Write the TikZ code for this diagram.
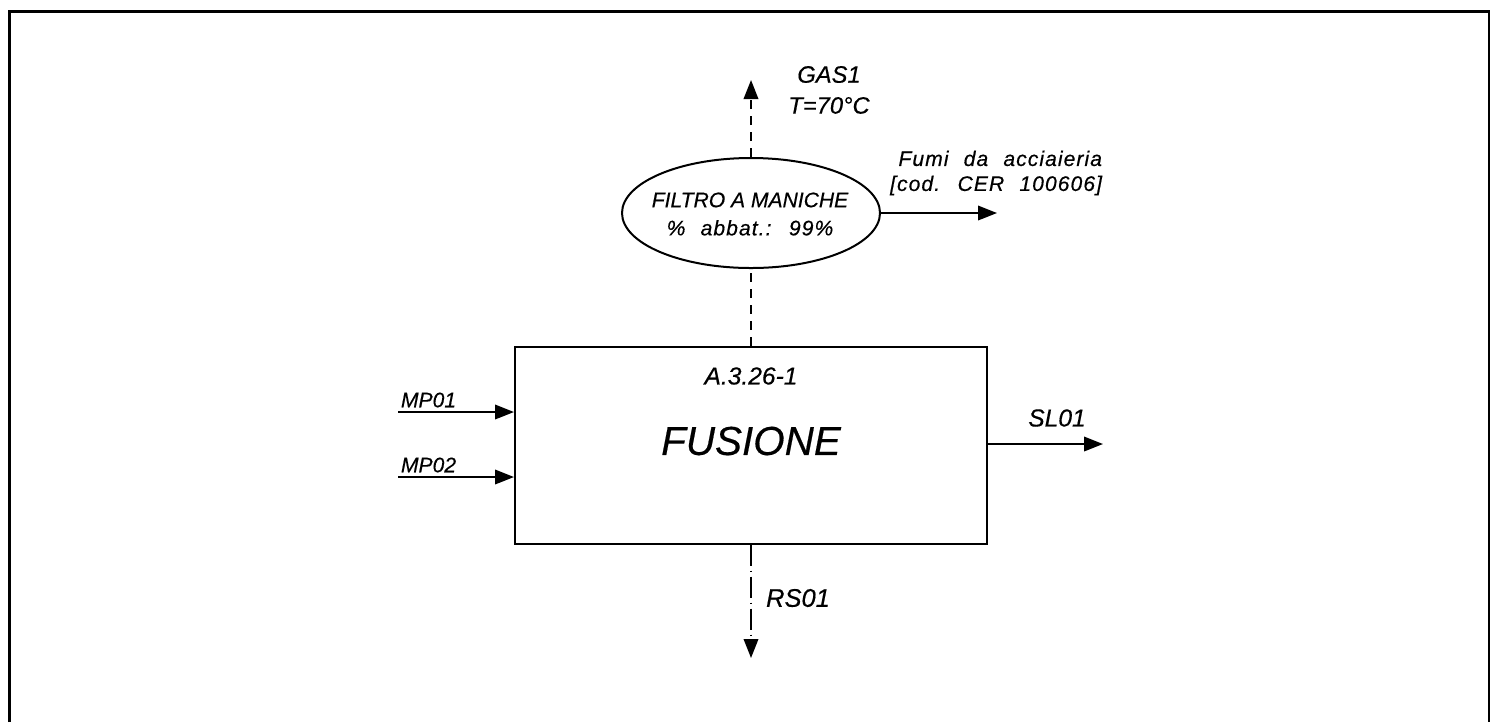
\documentclass[tikz,border=0pt]{standalone}
\usepackage{fontspec}
\setmainfont{Liberation Sans}[ItalicFeatures={FakeBold=0.4}]
\newfontfamily\isofont{Liberation Sans}[LetterSpace=5,WordSpace=2.2,ItalicFeatures={FakeBold=0.4}]
\usetikzlibrary{arrows.meta,shapes.geometric,positioning}

\begin{document}
\begin{tikzpicture}[x=0.2mm,y=-0.2mm,line width=0.4mm,
  frame/.style={line width=0.6mm},
  flow/.style={-{Triangle[length=3.8mm,width=2.9mm]}},
  gasflow/.style={flow,dash pattern=on 1.8mm off 1.4mm},
  solidflow/.style={flow,dash pattern=on 4.2mm off 1mm on 0.2mm off 1mm},
  lbl/.style={inner sep=0pt,font=\itshape\fontsize{12}{14}\selectfont},
  lowlbl/.style={inner sep=0pt,font=\isofont\itshape\fontsize{12}{14.2}\selectfont}]

\useasboundingbox (0,0) rectangle (1490,722);
\draw[frame] (9,722) -- (9,11) -- (1489,11) -- (1489,722);

% main block
\node[draw,minimum width=94.4mm,minimum height=39.4mm] (fusione) at (751,445) {};
\node[lbl,font=\itshape\fontsize{14}{16}\selectfont] (codice) at (751,376) {A.3.26-1};
\node[lbl,font=\itshape\fontsize{23}{26}\selectfont] (nome) at (751,441) {FUSIONE};

% filter
\node[draw,ellipse,minimum width=51.6mm,minimum height=22mm] (filtro) at (751,213) {};
\node[lbl,align=center,font=\itshape\fontsize{12}{16}\selectfont] (filtrotxt) at (750,214)
  {FILTRO A MANICHE\\{\isofont\itshape\fontsize{12}{16}\selectfont\% abbat.: 99\%}};

% free ends
\coordinate (mp1) at (398,412);
\coordinate (mp2) at (398,477);
\coordinate (sl) at (1103,444);
\coordinate (gas) at (751,80);
\coordinate (fumi) at (997,213);
\coordinate (rs) at (751,658);

% streams
\draw[flow] (mp1) -- (fusione.west |- mp1);
\draw[flow] (mp2) -- (fusione.west |- mp2);
\draw[flow] (fusione.east |- sl) -- (sl);
\draw[gasflow,arrows=-] (fusione.north) -- (filtro.south);
\draw[gasflow] (filtro.north) -- (gas);
\draw[flow] (filtro.east) -- (fumi);
\draw[solidflow] (fusione.south) -- (rs);

% labels
\node[lbl,anchor=west] (mp1txt) at (400,400) {MP01};
\node[lbl,anchor=west] (mp2txt) at (400,465) {MP02};
\node[lbl,font=\itshape\fontsize{14}{16}\selectfont] (sltxt) at (1057,418) {SL01};
\node[lbl,font=\itshape\fontsize{14.5}{16}\selectfont] (rstxt) at (798,598) {RS01};
\node[lbl,align=center,font=\itshape\fontsize{13.5}{17.6}\selectfont] (gastxt) at (829,90)
  {GAS1\\T=70°C};
\node[lowlbl,align=right,anchor=east] (fumitxt) at (1103,173)
  {Fumi da acciaieria\\{}[cod. CER 100606]};
\end{tikzpicture}
\end{document}
